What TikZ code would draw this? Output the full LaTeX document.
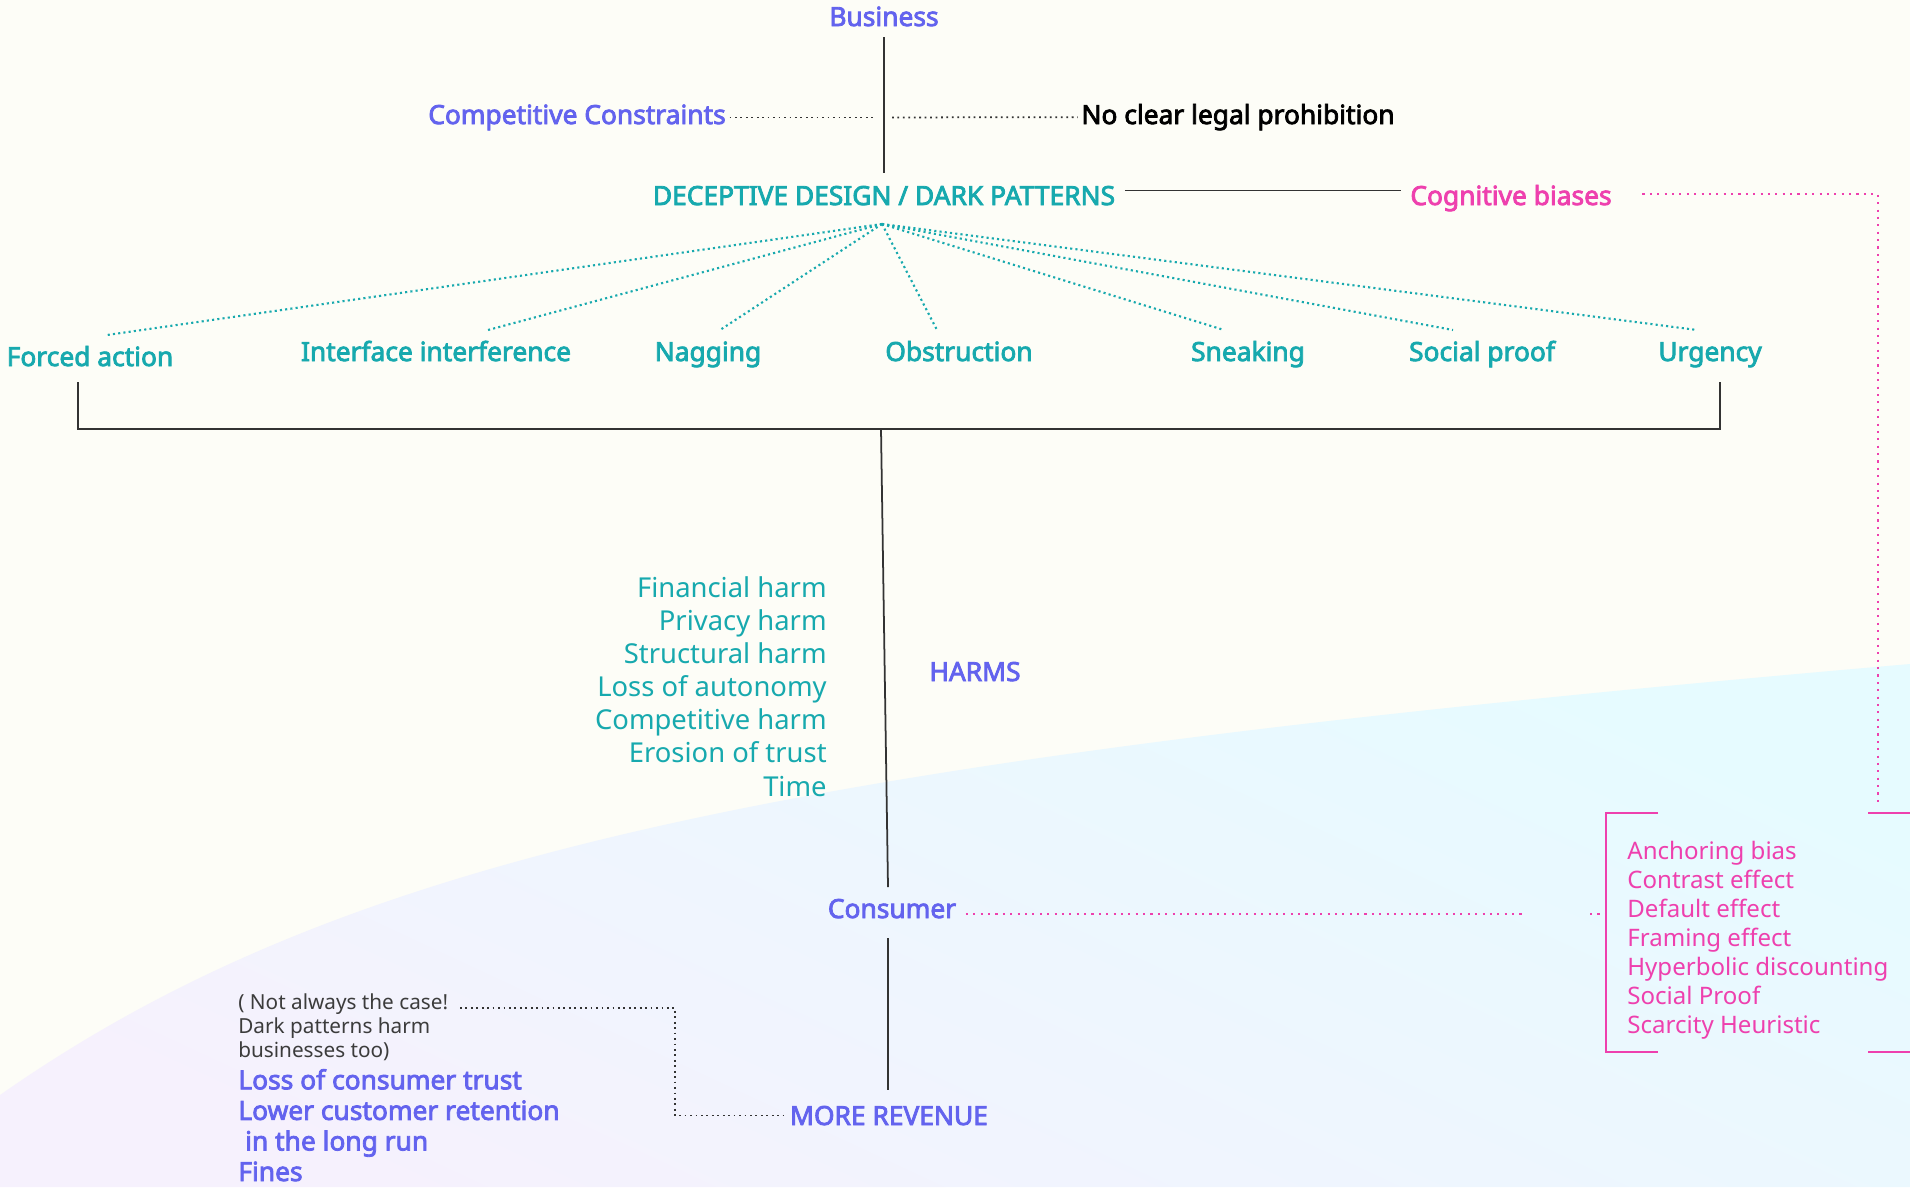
\documentclass[tikz,border=0pt]{standalone}
\usepackage{fontspec}
\setmainfont{Noto Sans}
\newfontfamily\medfont{Noto Sans}[FakeBold=3]
\usetikzlibrary{calc}
\definecolor{dpviolet}{HTML}{6363EE}
\definecolor{dpteal}{HTML}{17A9AE}
\definecolor{dppink}{HTML}{EE40AE}
\definecolor{dpgrey}{HTML}{3C3C3C}
\definecolor{bgcream}{HTML}{FDFDF7}
\definecolor{bgcyan}{HTML}{E6FBFF}
\definecolor{bglav}{HTML}{F6F1FD}

\begin{document}
\begin{tikzpicture}[x=0.02cm, y=-0.02cm,
  lbl/.style={font=\medfont\fontsize{15}{18}\selectfont, inner sep=2pt, anchor=base},
  harmlist/.style={font=\fontsize{15.6}{18.8}\selectfont, align=right, inner sep=0pt, anchor=base east},
  biaslist/.style={font=\fontsize{13.7}{16.5}\selectfont, align=left, inner sep=0pt, anchor=base west},
  solid link/.style={draw=black!80, line width=1pt},
  tealdots/.style={dpteal, line width=1.2pt, dash pattern=on 1.2pt off 1.8pt},
  pinkdots/.style={dppink, line width=1pt, dash pattern=on 1.2pt off 3pt},
  blackdots/.style={black!80, line width=1pt, dash pattern=on 1pt off 2.1pt}]
\useasboundingbox (0,0) rectangle (1910,1187);
\fill[bgcream] (0,0) rectangle (1910,1187);
\shade[top color=bgcyan, bottom color=bglav, shading angle=-25] (0,1095) .. controls (350,850) and (800,760) .. (1910,664) -- (1910,1187) -- (0,1187) -- cycle;

\node[lbl, dpviolet] (business) at (884,26) {Business};
\node[lbl, dpviolet] (cc) at (577,124) {Competitive Constraints};
\node[lbl, black] (nclp) at (1238,124) {No clear legal prohibition};
\node[lbl, dpteal] (ddp) at (884,205) {DECEPTIVE DESIGN / DARK PATTERNS};
\node[lbl, dppink] (cog) at (1511,205) {Cognitive biases};

\draw[solid link, shorten <=4pt, shorten >=5pt] (business.south) -- (business.south |- ddp.north);
\coordinate (mid) at (business.south |- cc.east);
\draw[blackdots] (cc.east) -- ($(mid)+(-9,0)$);
\draw[blackdots] ($(mid)+(8,0)$) -- (nclp.west);
\draw[solid link] ($(ddp.east)+(6,-5)$) -- ($(cog.west |- ddp.east)+(-6,-5)$);

\coordinate (hub) at (882,224);
\foreach \nm/\txt/\px/\py/\dx in {fa/Forced action/90/366/17, ii/Interface interference/436/361/52, ng/Nagging/708/361/12, ob/Obstruction/959/361/-22, sn/Sneaking/1248/361/-24, sp/Social proof/1482/361/-29, ur/Urgency/1710/361/-13}
{
\node[lbl, dpteal] (\nm) at (\px,\py) {\txt};
\draw[tealdots] (hub) -- ($(\nm.base)+(\dx,-31)$);
}

\coordinate (bl) at (78,382);
\coordinate (br) at (1720,382);
\coordinate (bm) at (881,429);
\draw[solid link] (bl) -- ++(0,47) -| (br);

\node[harmlist, dpteal] (harms) at (827,796) {Financial harm\\Privacy harm\\Structural harm\\Loss of autonomy\\Competitive harm\\Erosion of trust\\Time};
\node[lbl, dpviolet] (harmshead) at (975,681) {HARMS};

\node[lbl, dpviolet] (consumer) at (892,918) {Consumer};
\draw[solid link] (bm) -- ($(consumer.north)+(-4,-8)$);
\node[lbl, dpviolet] (mr) at (889,1125) {MORE REVENUE};
\draw[solid link] ($(consumer.south)+(-4,16)$) -- ($(mr.north)+(-1,-12)$);

\coordinate (cogc) at (1878,807);
\draw[pinkdots] ($(cog.east)+(27,-4)$) -| (cogc);
\node[biaslist, dppink] (biases) at (1627,1033) {Anchoring bias\\Contrast effect\\Default effect\\Framing effect\\Hyperbolic discounting\\Social Proof\\Scarcity Heuristic};
\draw[dppink, line width=0.9pt] (1658,813) -- (1606,813) coordinate (bbl) -- (1606,1052) -- (1658,1052);
\draw[dppink, line width=0.9pt] (1868,813) -- (1910,813);
\draw[dppink, line width=0.9pt] (1868,1052) -- (1910,1052);
\coordinate (cdot) at (1523,914);
\draw[pinkdots] ($(consumer.base east)+(6,-4)$) -- (cdot);
\draw[pinkdots] (1590,914) -- (bbl |- cdot);

\node[font=\fontsize{11.8}{13.4}\selectfont, dpgrey, align=left, inner sep=0pt, anchor=base west] (note) at (238,1057) {( Not always the case!\\Dark patterns harm\\businesses too)};
\node[font=\medfont\fontsize{15}{17.4}\selectfont, dpviolet, align=left, inner sep=0pt, anchor=base west] (bizharm) at (238,1181) {Loss of consumer trust\\Lower customer retention\\\ in the long run\\Fines};
\coordinate (nt1) at (460,1008);
\coordinate (nt2) at (675,1008);
\draw[blackdots] (nt1) -- (nt2) |- (mr.west);
\end{tikzpicture}
\end{document}
